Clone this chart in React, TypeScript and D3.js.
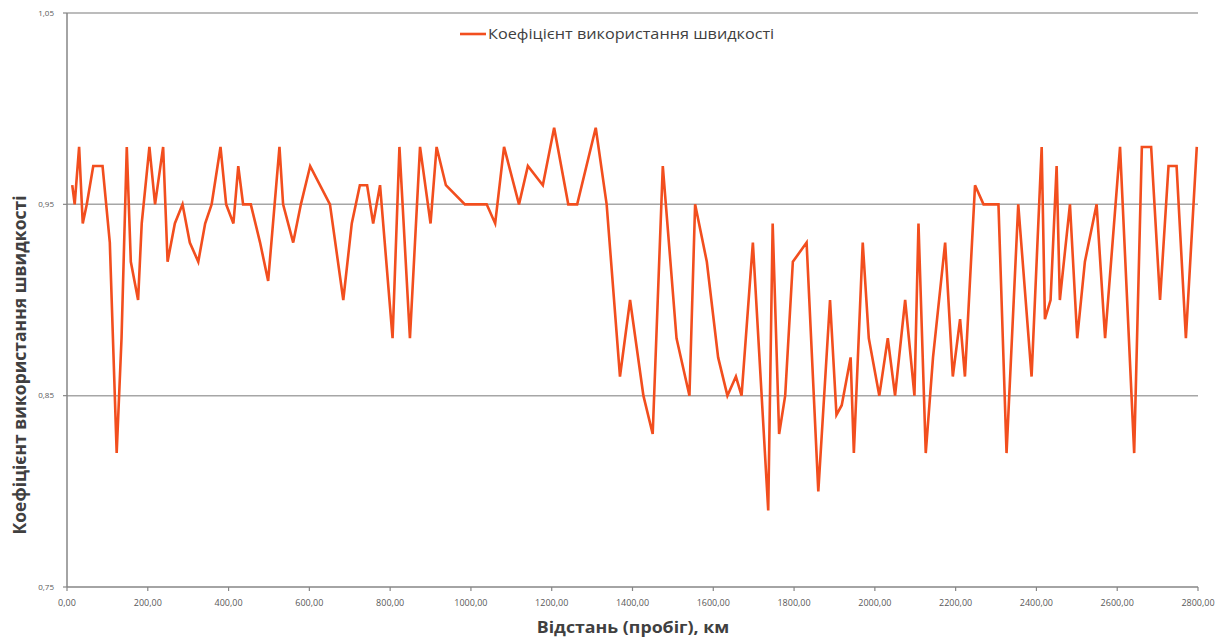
import React, { useEffect, useRef } from "react";
import * as d3 from "d3";

const distanceKm: number[] = [
  13, 19, 30, 39, 49, 65, 88, 106, 123, 135, 148, 158, 176, 185, 204, 218, 238, 249, 267, 286,
  304, 325, 342, 358, 380, 394, 412, 424, 436, 455, 478, 498, 526, 535, 560, 579, 602, 651, 684, 705,
  725, 743, 758, 775, 806, 823, 849, 874, 900, 915, 938, 985, 1039, 1060, 1082, 1119, 1141, 1178, 1206, 1241,
  1263, 1309, 1336, 1369, 1394, 1427, 1450, 1475, 1509, 1541, 1555, 1584, 1612, 1635, 1656, 1670, 1698, 1736, 1747, 1763,
  1778, 1797, 1831, 1860, 1889, 1905, 1918, 1940, 1948, 1970, 1985, 2011, 2032, 2050, 2075, 2098, 2108, 2126, 2144, 2174,
  2193, 2211, 2223, 2248, 2269, 2306, 2326, 2355, 2388, 2413, 2421, 2435, 2450, 2458, 2483, 2501, 2520, 2549, 2570, 2607,
  2642, 2661, 2684, 2706, 2727, 2747, 2770, 2797,
];

const speedCoef: number[] = [
  0.96, 0.95, 0.98, 0.94, 0.95, 0.97, 0.97, 0.93, 0.82, 0.88, 0.98, 0.92, 0.9, 0.94, 0.98, 0.95, 0.98, 0.92, 0.94, 0.95,
  0.93, 0.92, 0.94, 0.95, 0.98, 0.95, 0.94, 0.97, 0.95, 0.95, 0.93, 0.91, 0.98, 0.95, 0.93, 0.95, 0.97, 0.95, 0.9, 0.94,
  0.96, 0.96, 0.94, 0.96, 0.88, 0.98, 0.88, 0.98, 0.94, 0.98, 0.96, 0.95, 0.95, 0.94, 0.98, 0.95, 0.97, 0.96, 0.99, 0.95,
  0.95, 0.99, 0.95, 0.86, 0.9, 0.85, 0.83, 0.97, 0.88, 0.85, 0.95, 0.92, 0.87, 0.85, 0.86, 0.85, 0.93, 0.79, 0.94, 0.83,
  0.85, 0.92, 0.93, 0.8, 0.9, 0.84, 0.845, 0.87, 0.82, 0.93, 0.88, 0.85, 0.88, 0.85, 0.9, 0.85, 0.94, 0.82, 0.87, 0.93,
  0.86, 0.89, 0.86, 0.96, 0.95, 0.95, 0.82, 0.95, 0.86, 0.98, 0.89, 0.9, 0.97, 0.9, 0.95, 0.88, 0.92, 0.95, 0.88, 0.98,
  0.82, 0.98, 0.98, 0.9, 0.97, 0.97, 0.88, 0.98,
];

const xTicks: number[] = [0, 200, 400, 600, 800, 1000, 1200, 1400, 1600, 1800, 2000, 2200, 2400, 2600, 2800];
const yTicks: number[] = [0.75, 0.85, 0.95, 1.05];
const gridValues: number[] = [0.85, 0.95, 1.05];

const seriesName = "Коефіцієнт використання швидкості";
const xTitle = "Відстань (пробіг), км";
const yTitle = "Коефіцієнт використання швидкості";

export default function App() {
  const ref = useRef<SVGSVGElement | null>(null);

  useEffect(() => {
    document.body.style.margin = "0";
    const svg = d3.select(ref.current);
    svg.selectAll("*").remove();

    const left = 67, right = 1198, top = 13, bottom = 587;
    const x = d3.scaleLinear().domain([0, 2800]).range([left, right]);
    const y = d3.scaleLinear().domain([0.75, 1.05]).range([bottom, top]);
    const fmt = (v: number, d: number) => v.toFixed(d).replace(".", ",");

    svg.append("rect").attr("width", 1226).attr("height", 644).attr("fill", "#fff");

    // gridlines
    svg.append("g")
      .selectAll("line")
      .data(gridValues)
      .join("line")
      .attr("x1", left).attr("x2", right)
      .attr("y1", (d) => y(d)).attr("y2", (d) => y(d))
      .attr("stroke", "#a6a6a6").attr("stroke-width", 1.5);

    // axes lines
    svg.append("line").attr("x1", left).attr("x2", left).attr("y1", top).attr("y2", bottom)
      .attr("stroke", "#868686").attr("stroke-width", 1.5);
    svg.append("line").attr("x1", left).attr("x2", right).attr("y1", bottom).attr("y2", bottom)
      .attr("stroke", "#868686").attr("stroke-width", 1.5);

    // y ticks
    const yg = svg.append("g");
    yTicks.forEach((v) => {
      yg.append("line").attr("x1", left - 4).attr("x2", left).attr("y1", y(v)).attr("y2", y(v))
        .attr("stroke", "#868686").attr("stroke-width", 1.2);
      yg.append("text").attr("x", left - 13).attr("y", y(v)).attr("dy", "0.35em")
        .attr("text-anchor", "end").attr("font-family", "Open Sans, sans-serif")
        .attr("font-size", 8).attr("fill", "#595959").text(fmt(v, 2));
    });

    // x ticks
    const xg = svg.append("g");
    xTicks.forEach((v) => {
      xg.append("line").attr("x1", x(v)).attr("x2", x(v)).attr("y1", bottom).attr("y2", bottom + 4)
        .attr("stroke", "#868686").attr("stroke-width", 1.2);
      xg.append("text").attr("x", x(v)).attr("y", 606)
        .attr("text-anchor", "middle").attr("font-family", "Open Sans, sans-serif")
        .attr("font-size", 9).attr("fill", "#595959").text(fmt(v, 2));
    });

    // line
    const pts = distanceKm.map((d, i) => [d, speedCoef[i]] as [number, number]);
    const line = d3.line<[number, number]>().x((d) => x(d[0])).y((d) => y(d[1]));
    svg.append("path").datum(pts).attr("d", line).attr("fill", "none")
      .attr("stroke", "#f24e1e").attr("stroke-width", 2.6).attr("stroke-linejoin", "miter");

    // legend
    svg.append("line").attr("x1", 460).attr("x2", 486).attr("y1", 34).attr("y2", 34)
      .attr("stroke", "#f24e1e").attr("stroke-width", 2.6);
    svg.append("text").attr("transform", "translate(488,34) scale(1.16,1)").attr("dy", "0.35em")
      .attr("font-family", "Open Sans, sans-serif").attr("font-size", 14)
      .attr("fill", "#404040").text(seriesName);

    // axis titles
    svg.append("text").attr("transform", "translate(633,627) scale(1.11,1)").attr("dy", "0.35em")
      .attr("text-anchor", "middle").attr("font-family", "Open Sans, sans-serif")
      .attr("font-size", 16).attr("font-weight", "bold").attr("fill", "#404040").text(xTitle);
    svg.append("text").attr("transform", "translate(20,365) rotate(-90)").attr("dy", "0.35em")
      .attr("text-anchor", "middle").attr("font-family", "Open Sans, sans-serif")
      .attr("font-size", 17.5).attr("font-weight", "bold").attr("fill", "#404040").text(yTitle);
  }, []);

  return (
    <svg ref={ref} width={1226} height={644}
      style={{ position: "absolute", left: 0, top: 0, display: "block" }} />
  );
}
